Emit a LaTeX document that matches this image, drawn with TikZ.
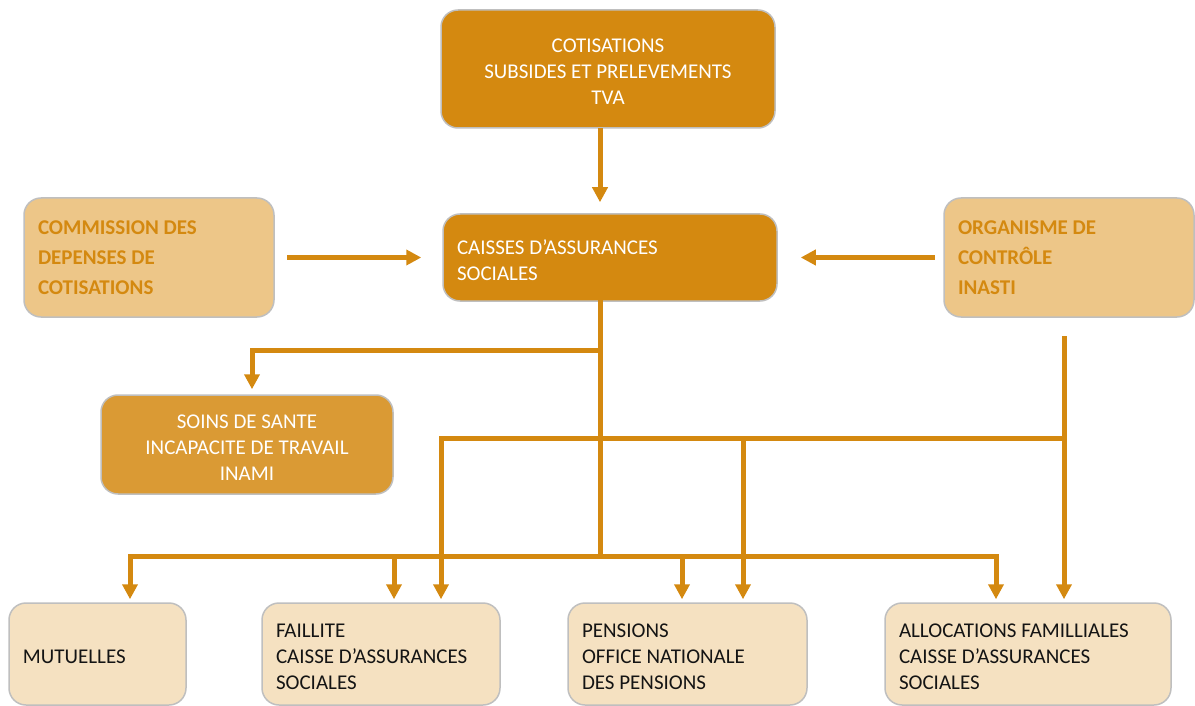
\documentclass[tikz,border=0pt]{standalone}
\usepackage{fontspec}
\setmainfont{Carlito}
\usetikzlibrary{arrows.meta}
\definecolor{dark}{RGB}{212,137,16}
\definecolor{pale}{RGB}{237,198,136}
\definecolor{mid}{RGB}{218,154,52}
\definecolor{beige}{RGB}{245,225,193}
\definecolor{edge}{RGB}{191,191,191}
\definecolor{ink}{RGB}{20,20,20}
\newcommand{\lowerstrut}{\rule{0pt}{20pt}}
\tikzset{
  box/.style={draw=edge, line width=1.5pt, rounded corners=17pt, inner ysep=0pt},
  darkbox/.style={box, fill=dark, text=white, font=\fontsize{21}{26}\selectfont},
  palebox/.style={box, fill=pale, text=dark, font=\fontsize{21}{30}\selectfont\bfseries, align=flush left, inner xsep=14pt},
  midbox/.style={box, fill=mid, text=white, font=\fontsize{21}{26}\selectfont, align=center},
  lowbox/.style={box, fill=beige, text=ink, font=\fontsize{21}{26}\selectfont, align=flush left, inner xsep=14pt, minimum height=102pt},
  line/.style={draw=dark, line width=5pt, line cap=rect, line join=miter},
  arr/.style={line, -{Triangle[length=15pt,width=15pt]}}
}
\begin{document}
\begin{tikzpicture}[x=1pt,y=-1pt]
\useasboundingbox (0,0) rectangle (1195,706);
% nodes
\node[darkbox, align=center, minimum width=334pt, minimum height=118pt] (top) at (608,69)
  {\lowerstrut COTISATIONS\\SUBSIDES ET PRELEVEMENTS\\TVA};
\node[darkbox, align=flush left, inner xsep=14pt, text width=306pt, minimum height=87pt] (caisses) at (610,257.5)
  {\fontsize{21}{27}\selectfont\lowerstrut CAISSES D’ASSURANCES\\SOCIALES};
\node[palebox, text width=222pt, minimum height=119pt] (comm) at (149,257.5)
  {COMMISSION DES\\DEPENSES DE\\COTISATIONS};
\node[palebox, text width=222pt, minimum height=119pt] (org) at (1069,257.5)
  {ORGANISME DE\\CONTRÔLE\\INASTI};
\node[midbox, minimum width=292pt, minimum height=99pt] (soins) at (247,444.5)
  {\lowerstrut SOINS DE SANTE\\INCAPACITE DE TRAVAIL\\INAMI};
\node[lowbox, text width=149pt] (mut) at (97.5,654) {\lowerstrut MUTUELLES};
\node[lowbox, text width=210pt] (fail) at (381,654) {\lowerstrut FAILLITE\\CAISSE D’ASSURANCES\\SOCIALES};
\node[lowbox, text width=211pt] (pens) at (687.5,654) {\lowerstrut PENSIONS\\OFFICE NATIONALE\\DES PENSIONS};
\node[lowbox, text width=258pt] (alloc) at (1028,654) {\lowerstrut ALLOCATIONS FAMILLIALES\\CAISSE D’ASSURANCES\\SOCIALES};
% junction coordinates
\coordinate (vx) at (600,350);
\coordinate (sx) at (252,350);
\coordinate (b2L) at (441,438);
\coordinate (b2m) at (743,438);
\coordinate (b2R) at (1064,438);
\coordinate (od) at (1064,336);
\coordinate (b3m) at (600,556);
\coordinate (b3L) at (130,556);
\coordinate (b3f) at (394,556);
\coordinate (b3p) at (682,556);
\coordinate (b3R) at (996,556);
% connectors
\draw[arr, shorten <=2pt, shorten >=11pt] (top.south -| vx) -- (caisses.north -| vx);
\draw[arr, shorten <=15pt, shorten >=21pt] (comm) -- (caisses);
\draw[arr, shorten <=11pt, shorten >=23pt] (org) -- (caisses);
\draw[line] (caisses.south -| vx) -- (b3m);
\draw[arr, shorten >=5pt] (vx) -- (sx) -- (soins.north -| sx);
\draw[arr, shorten >=3pt] (b2R) -- (b2L) -- (fail.north -| b2L);
\draw[arr, shorten >=3pt] (b2m) -- (pens.north -| b2m);
\draw[arr, line cap=butt, shorten >=3pt] (od) -- (alloc.north -| od);
\draw[arr, shorten >=3pt] (b3m) -- (b3L) -- (mut.north -| b3L);
\draw[arr, shorten >=3pt] (b3m) -- (b3R) -- (alloc.north -| b3R);
\draw[arr, shorten >=3pt] (b3f) -- (fail.north -| b3f);
\draw[arr, shorten >=3pt] (b3p) -- (pens.north -| b3p);
\end{tikzpicture}
\end{document}
